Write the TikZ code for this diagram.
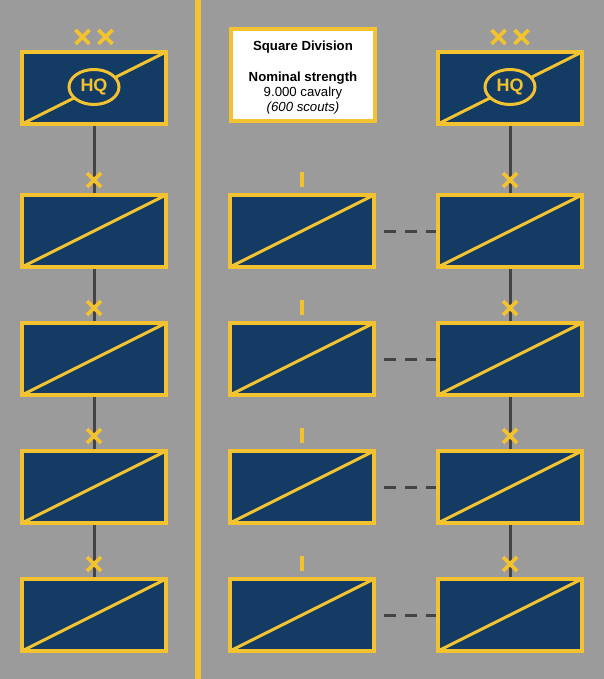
\documentclass[tikz,border=0pt]{standalone}
\usepackage{fontspec}
\setmainfont{Liberation Sans}
\usetikzlibrary{shapes.geometric}

\definecolor{divGray}  {HTML}{9B9B9B}
\definecolor{divNavy}  {HTML}{143B63}
\definecolor{divYellow}{HTML}{F2C231}
\definecolor{divLink}  {HTML}{444444}

\begin{document}
\begin{tikzpicture}[x=1pt,y=-1pt,
    unit/.style={draw=divYellow, line width=4pt, fill=divNavy,
      minimum width=144pt, minimum height=72pt, inner sep=0pt,
      path picture={\draw[divYellow, line width=3pt]
        (path picture bounding box.south west)--(path picture bounding box.north east);}},
    link/.style={divLink, line width=3pt},
    hqtag/.style={ellipse, draw=divYellow, fill=divNavy, line width=3pt,
      minimum width=50pt, minimum height=35pt, inner sep=0pt,
      text=divYellow, font=\fontsize{18}{18}\selectfont\bfseries},
    xmark/.pic={\draw[divYellow, line width=3.6pt](-7,-7)--(7,7) (-7,7)--(7,-7);},
    imark/.pic={\draw[divYellow, line width=4pt](0,-7.5)--(0,7.5);}]
        \useasboundingbox (0,0) rectangle (604,679);
        \fill[divGray](0,0) rectangle (604,679);
        \fill[divYellow](195,0) rectangle (201,679);
        % headquarters
        \node[unit] (hqL) at (94,88){};
        \node[unit] (hqR) at (510,88){};
        \node[hqtag] (hqLtag) at (94,87){HQ};
        \node[hqtag] (hqRtag) at (510,87){HQ};
        \node[draw=divYellow, line width=4pt, fill=white,
              minimum width=144pt, minimum height=92pt] (info) at (303,75){};
        \node[align=center, font=\fontsize{13.2}{15.2}\selectfont]
              (infotext) at ([yshift=-2.5pt]info.center)
              {\textbf{Square Division}\\[15.5pt]\textbf{Nominal strength}\\
               9.000 cavalry\\\textit{(600 scouts)}};
        % brigades and regiments
        \foreach \i/\y in {1/231, 2/359, 3/487, 4/615}{
          \node[unit] (l\i) at (94,\y){};
          \node[unit] (m\i) at (302,\y){};
          \node[unit] (r\i) at (510,\y){};
          \draw[link, dash pattern=on 12pt off 9pt, shorten <=8pt](m\i)--(r\i);
          \pic at ([yshift=14pt]m\i.north){imark};
        }
        \draw[link](hqL)--(l1) (l1)--(l2) (l2)--(l3) (l3)--(l4);
        \draw[link](hqR)--(r1) (r1)--(r2) (r2)--(r3) (r3)--(r4);
        \foreach \i in {1,...,4}{
          \pic at ([yshift=13pt]l\i.north){xmark};
          \pic at ([yshift=13pt]r\i.north){xmark};
        }
        \pic at ([xshift=-11.5pt,yshift=13pt]hqL.north){xmark};
        \pic at ([xshift=11.5pt,yshift=13pt]hqL.north){xmark};
        \pic at ([xshift=-11.5pt,yshift=13pt]hqR.north){xmark};
        \pic at ([xshift=11.5pt,yshift=13pt]hqR.north){xmark};
      \end{tikzpicture}
\end{document}
